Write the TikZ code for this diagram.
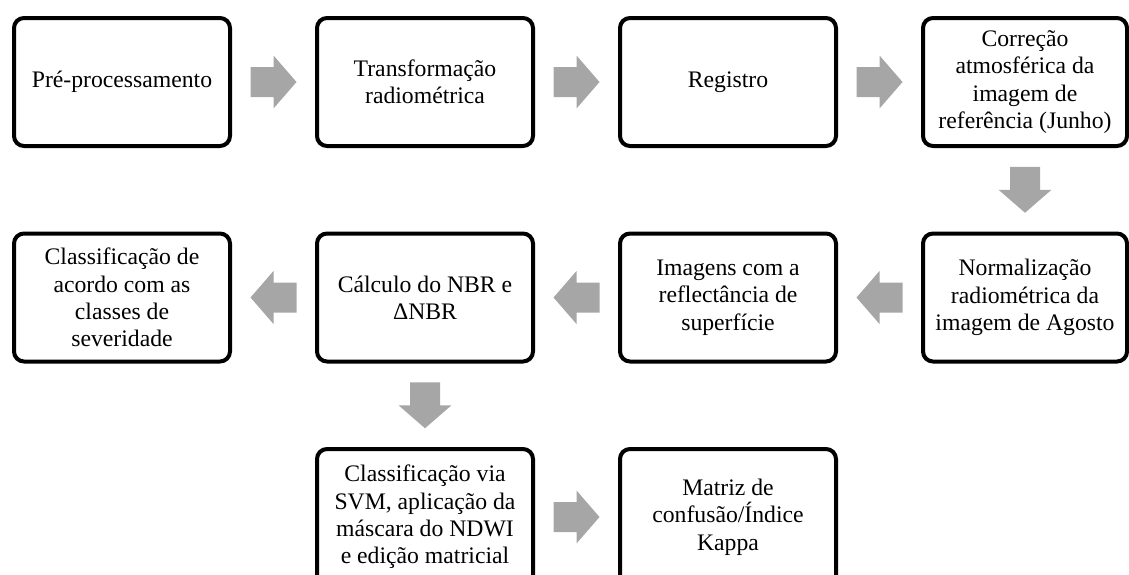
\documentclass[tikz,border=0pt]{standalone}
\usepackage{fontspec}
\setmainfont{Liberation Serif}
\usetikzlibrary{calc}
\definecolor{arrowgray}{HTML}{A6A6A6}
\begin{document}
\begin{tikzpicture}[x=1pt,y=1pt,
    stepbox/.style={draw, line width=4pt, rounded corners=10pt, fill=white,
      minimum width=216pt, minimum height=128pt, align=center, inner sep=2pt,
      font=\fontsize{23.7}{27.3}\selectfont},
    edgebox/.style={stepbox, minimum width=204pt},
    lowbox/.style={stepbox, minimum height=136pt},
    blockarrow/.pic={\fill[arrowgray] (-23,-15) -- (0,-15) -- (0,-26.5)
      -- (23,0) -- (0,26.5) -- (0,15) -- (-23,15) -- cycle;}]
  \clip (0,0) rectangle (1129,-574);
  % first row
  \node[stepbox] (pre) at (122,-82) {Pré-processamento};
  \node[stepbox] (trans) at (425,-82) {Transformação\\radiométrica};
  \node[stepbox] (reg) at (728,-82) {Registro};
  \node[edgebox] (corr) at (1025,-82) {Correção\\atmosférica da\\imagem de\\referência (Junho)};
  % second row
  \node[edgebox] (norm) at (1025,-297.5) {Normalização\\radiométrica da\\imagem de Agosto};
  \node[stepbox] (refl) at (728,-297.5) {Imagens com a\\reflectância de\\superfície};
  \node[stepbox] (nbr) at (425,-297.5) {Cálculo do NBR e\\ΔNBR};
  \node[stepbox] (sev) at (122,-297.5) {Classificação de\\acordo com as\\classes de\\severidade};
  % third row
  \node[lowbox] (svm) at (425,-517) {Classificação via\\SVM, aplicação da\\máscara do NDWI\\e edição matricial};
  \node[lowbox] (kappa) at (728,-517) {Matriz de\\confusão/Índice\\Kappa};
  % block arrows
  \pic at ($(pre.east)!0.5!(trans.west)$) {blockarrow};
  \pic at ($(trans.east)!0.5!(reg.west)$) {blockarrow};
  \pic at ($(reg.east)!0.5!(corr.west)$) {blockarrow};
  \pic[rotate=-90] at ($(corr.south)!0.5!(norm.north)$) {blockarrow};
  \pic[rotate=180] at ($(norm.west)!0.5!(refl.east)$) {blockarrow};
  \pic[rotate=180] at ($(refl.west)!0.5!(nbr.east)$) {blockarrow};
  \pic[rotate=180] at ($(nbr.west)!0.5!(sev.east)$) {blockarrow};
  \pic[rotate=-90] at ($(nbr.south)!0.5!(svm.north)$) {blockarrow};
  \pic at ($(svm.east)!0.5!(kappa.west)$) {blockarrow};
\end{tikzpicture}
\end{document}
